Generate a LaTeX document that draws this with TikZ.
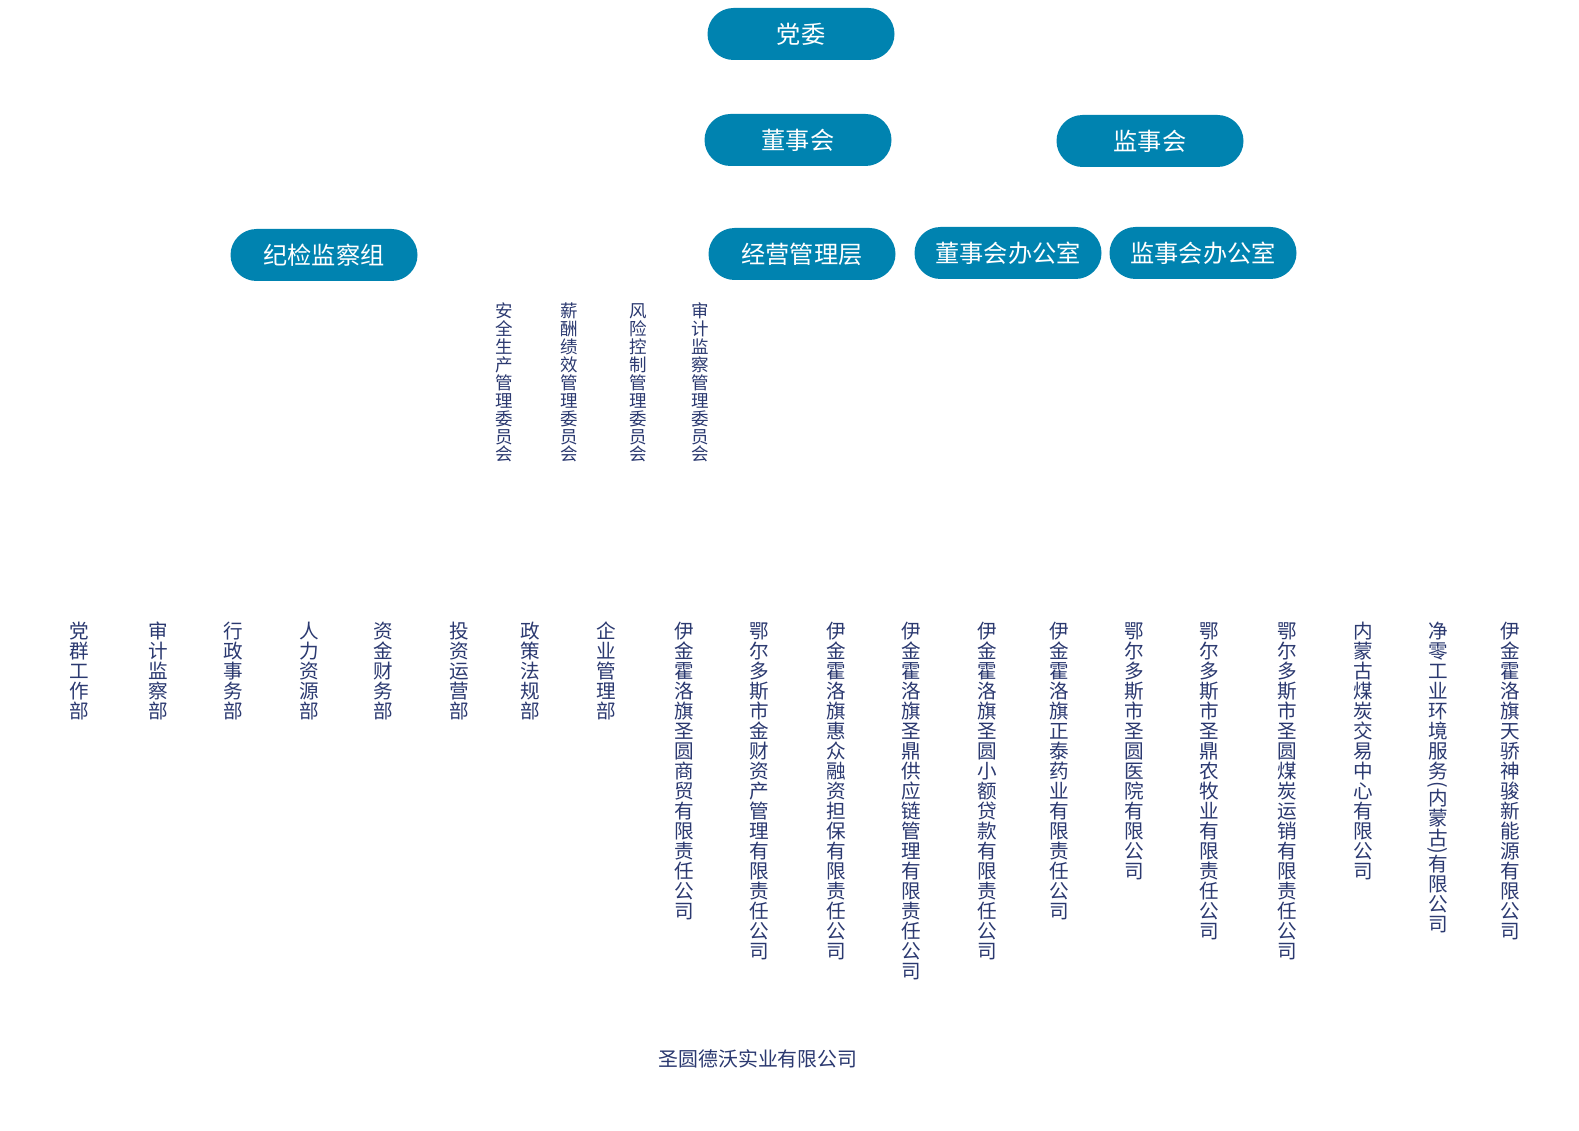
\documentclass[tikz,border=0pt]{standalone}
\usepackage{fontspec}
\usepackage{graphicx}
\setmainfont{Noto Sans CJK SC}
\definecolor{pillblue}{RGB}{0,131,176}
\definecolor{txtblue}{RGB}{43,57,112}
\newdimen\vpitch
\let\vtxtEnd\relax
\def\vlp{\rotatebox{-90}{(}}
\def\vrp{\rotatebox{-90}{)}}
\def\vtxtA#1{\ifx#1\vtxtEnd\else\vtxtB{#1}\expandafter\vtxtA\fi}
\def\vtxtB#1{\ifx#1\vlp\hbox to 1em{\hss#1\hss}\else\ifx#1\vrp\hbox to 1em{\hss#1\hss}\else\hbox to 1em{\hss\vrule width0pt height0.87\vpitch depth0.13\vpitch\smash{#1}\hss}\fi\fi}
\newcommand\vtext[2]{\vbox{\vpitch=#1\relax\baselineskip=0pt\lineskip=0pt\lineskiplimit=0pt\vtxtA#2\vtxtEnd}}
\tikzset{
  pill/.style={fill=pillblue, text=white, rounded corners=26pt, minimum width=187pt, minimum height=52pt, inner sep=0pt, font=\fontsize{24.2}{28}\selectfont},
  colb/.style={anchor=north, inner sep=0pt, text=txtblue, font=\fontsize{19.6}{20}\selectfont},
  colc/.style={anchor=north, inner sep=0pt, text=txtblue, font=\fontsize{17.5}{18}\selectfont},
}
\begin{document}
\begin{tikzpicture}[x=1pt,y=-1pt]
\useasboundingbox (0,0) rectangle (1579,1131);
\fill[white] (0,0) rectangle (1579,1131);
% pills
\node[pill] (dangwei) at (801,34) {党委};
\node[pill] (dongshihui) at (798,140) {董事会};
\node[pill] (jianshihui) at (1150,141) {监事会};
\node[pill] (jijian) at (324,255) {纪检监察组};
\node[pill] (jingying) at (802,254) {经营管理层};
\node[pill] (dsbgs) at (1008,253) {董事会办公室};
\node[pill] (jsbgs) at (1203,253) {监事会办公室};
% committees
\node[colc] (c1) at (504.5,302) {\vtext{17.9pt}{安全生产管理委员会}};
\node[colc] (c2) at (569,302) {\vtext{17.9pt}{薪酬绩效管理委员会}};
\node[colc] (c3) at (638.4,302) {\vtext{17.9pt}{风险控制管理委员会}};
\node[colc] (c4) at (699.9,302) {\vtext{17.9pt}{审计监察管理委员会}};
% departments
\node[colb] (d1) at (79.6,621) {\vtext{20pt}{党群工作部}};
\node[colb] (d2) at (158.1,621) {\vtext{20pt}{审计监察部}};
\node[colb] (d3) at (233.6,621) {\vtext{20pt}{行政事务部}};
\node[colb] (d4) at (309.2,621) {\vtext{20pt}{人力资源部}};
\node[colb] (d5) at (383.7,621) {\vtext{20pt}{资金财务部}};
\node[colb] (d6) at (459.2,621) {\vtext{20pt}{投资运营部}};
\node[colb] (d7) at (530.7,621) {\vtext{20pt}{政策法规部}};
\node[colb] (d8) at (606.2,621) {\vtext{20pt}{企业管理部}};
% companies
\node[colb] (e1) at (683.8,621) {\vtext{20pt}{伊金霍洛旗圣圆商贸有限责任公司}};
\node[colb] (e2) at (759.3,621) {\vtext{20pt}{鄂尔多斯市金财资产管理有限责任公司}};
\node[colb] (e3) at (835.8,621) {\vtext{20pt}{伊金霍洛旗惠众融资担保有限责任公司}};
\node[colb] (e4) at (911.3,621) {\vtext{20pt}{伊金霍洛旗圣鼎供应链管理有限责任公司}};
\node[colb] (e5) at (986.9,621) {\vtext{20pt}{伊金霍洛旗圣圆小额贷款有限责任公司}};
\node[colb] (e6) at (1059.4,621) {\vtext{20pt}{伊金霍洛旗正泰药业有限责任公司}};
\node[colb] (e7) at (1133.9,621) {\vtext{20pt}{鄂尔多斯市圣圆医院有限公司}};
\node[colb] (e8) at (1209.4,621) {\vtext{20pt}{鄂尔多斯市圣鼎农牧业有限责任公司}};
\node[colb] (e9) at (1287.0,621) {\vtext{20pt}{鄂尔多斯市圣圆煤炭运销有限责任公司}};
\node[colb] (e10) at (1363.5,621) {\vtext{20pt}{内蒙古煤炭交易中心有限公司}};
\node[colb] (e11) at (1438.0,621) {\vtext{20pt}{净零工业环境服务\vlp 内蒙古\vrp 有限公司}};
\node[colb] (e12) at (1510.5,621) {\vtext{20pt}{伊金霍洛旗天骄神骏新能源有限公司}};
% bottom
\node[inner sep=0pt, text=txtblue, font=\fontsize{19.9}{22}\selectfont] (root) at (758,1059) {圣圆德沃实业有限公司};
\end{tikzpicture}
\end{document}
